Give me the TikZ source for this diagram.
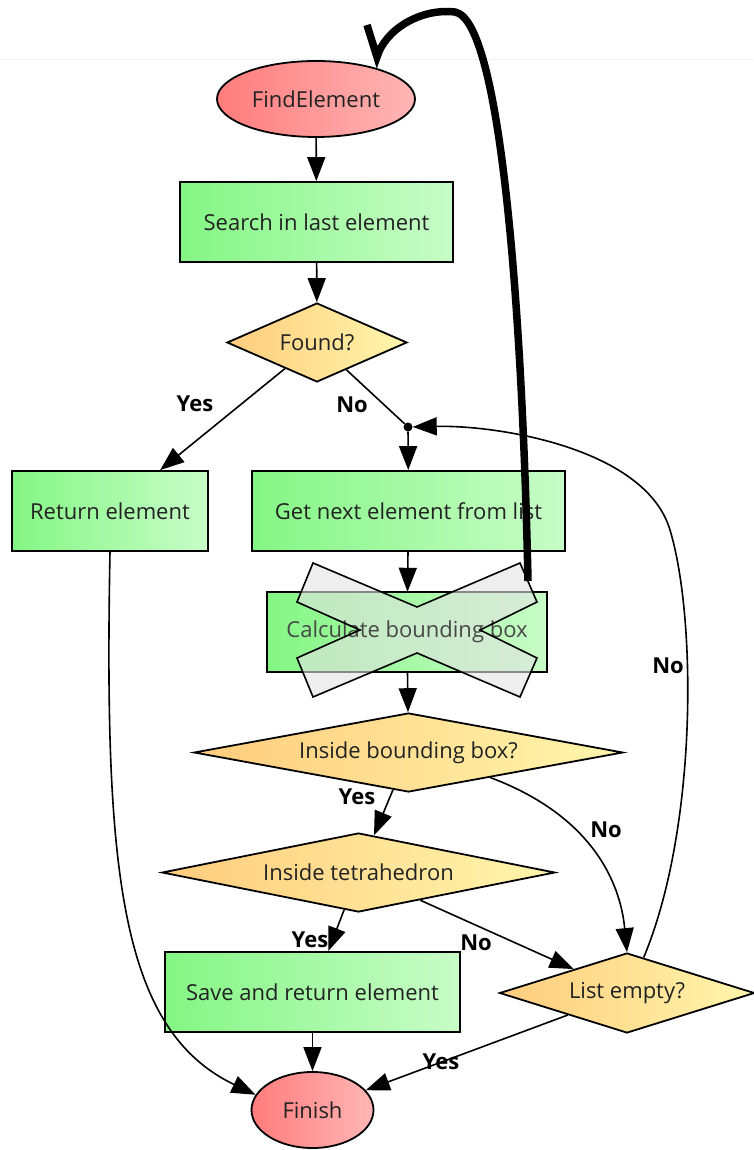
\documentclass[tikz,border=0pt]{standalone}
\usepackage{fontspec}
\setmainfont{Open Sans}
\usetikzlibrary{shapes.geometric,arrows.meta,calc}

\definecolor{txt}{RGB}{34,34,34}
\definecolor{greenL}{RGB}{132,246,132}
\definecolor{greenR}{RGB}{200,252,200}
\definecolor{yelL}{RGB}{255,204,125}
\definecolor{yelR}{RGB}{255,246,172}
\definecolor{redL}{RGB}{255,124,124}
\definecolor{redR}{RGB}{255,182,182}
\definecolor{crossfill}{RGB}{226,226,226}

\pgfdeclarelayer{background}
\pgfsetlayers{background,main}

\tikzset{
  nodefont/.style={font=\fontsize{22}{26}\selectfont},
  base/.style={draw=black, line width=1.8pt, inner sep=0pt, text=txt, nodefont},
  proc/.style={base, rectangle, left color=greenL, right color=greenR},
  dec/.style={base, diamond, left color=yelL, right color=yelR},
  term/.style={base, ellipse, left color=redL, right color=redR},
  junction/.style={circle, fill=black, minimum size=9pt, inner sep=0pt},
  lbl/.style={font=\bfseries\fontsize{22}{26}\selectfont, text=black},
  conn/.style={draw=black, line width=1.6pt},
  arr/.style={conn, -{Triangle[length=24pt,width=18pt]}},
  handstroke/.style={draw=black, line width=7.5pt, line join=miter, line cap=butt},
  crossline/.style={draw=black, line width=1.6pt, line join=miter},
  crossarea/.style={fill=crossfill, fill opacity=0.6}
}

\begin{document}
\begin{tikzpicture}[x=1pt,y=-1pt]
\useasboundingbox (0,0) rectangle (753,1150);

% faint page edge
\draw[line width=1pt, black!5] (0,60) -- (753,60);

% nodes
\node[term, minimum width=198, minimum height=76] (start) at (316,99) {FindElement};
\node[proc, minimum width=273, minimum height=80] (search) at (316.5,222) {Search in last element};
\node[dec, minimum width=180, minimum height=79, shape aspect=2.3] (found) at (317,342.5) {Found?};
\node[proc, minimum width=196, minimum height=80] (ret) at (110,511) {Return element};
\node[proc, minimum width=313, minimum height=80] (next) at (408.5,511) {Get next element from list};
% crossed-out step: box drawn underneath, text above the cross fill
\node[inner sep=0pt, text=black!72, nodefont, minimum width=280, minimum height=80] (calc) at (407,632) {Calculate bounding box};
\node[junction] (join) at (408,427) {};
\node[dec, minimum width=429, minimum height=79, shape aspect=5.4] (inbb) at (408.5,752.5) {Inside bounding box?};
\node[dec, minimum width=393, minimum height=79, shape aspect=5] (intet) at (358.5,872.5) {Inside tetrahedron};
\node[proc, minimum width=295, minimum height=80] (save) at (312.5,992) {Save and return element};
\node[dec, minimum width=255, minimum height=80, shape aspect=3.2] (empty) at (627,993) {List empty?};
\node[term, minimum width=122, minimum height=76] (fin) at (312.5,1110) {Finish};

% the cross shape
\def\crosspath{(313,563) -- (417,607) -- (520,563) -- (537,602) -- (480,630)
  -- (537,658) -- (520,697) -- (417,653) -- (313,697) -- (297,658) -- (360,630)
  -- (297,602) -- cycle}

\begin{pgfonlayer}{background}
  \draw[line width=1.8pt, left color=greenL, right color=greenR]
    (calc.north west) rectangle (calc.south east);
  \path[crossarea] \crosspath;
\end{pgfonlayer}

% hand-drawn stroke
\draw[handstroke] (528,581) .. controls (522,300) and (500,20) .. (455,12)
  .. controls (420,8) and (385,30) .. (377,57) -- (367,25);

\draw[crossline] \crosspath;

% connectors
\draw[arr] (start) -- (search);
\draw[arr] (search) -- (found);
\draw[arr] (found) -- (ret);
\draw[conn] (found) -- (join);
\draw[arr] (join) -- (next);
\draw[arr] (next) -- (calc);
\draw[arr] (calc) -- (inbb);
\draw[arr] (inbb) -- (intet);
\draw[arr] ($(inbb.south)!0.38!(inbb.east)$) .. controls (590,815) and (620,880) .. (empty.north);
\draw[arr] (intet) -- (save);
\draw[arr] (intet) -- (empty);
\draw[arr] (save) -- (fin);
\draw[arr] (ret.south) .. controls (104,870) and (120,1030) .. (fin.165);
\draw[arr] (empty) -- (fin);
\draw[arr] ($(empty.north)!0.13!(empty.east)$) .. controls (697,830) and (697,620) .. (670,530)
  .. controls (646,449) and (500,425) .. (join);

% branch labels
\node[lbl] (yes1) at (195,404) {Yes};
\node[lbl] (no1) at (352,405) {No};
\node[lbl] (yes2) at (357,797) {Yes};
\node[lbl] (no2) at (606,830) {No};
\node[lbl] (no3) at (668,666) {No};
\node[lbl] (yes3) at (310,940) {Yes};
\node[lbl] (no4) at (476,943) {No};
\node[lbl] (yes4) at (441,1062) {Yes};
\end{tikzpicture}
\end{document}
